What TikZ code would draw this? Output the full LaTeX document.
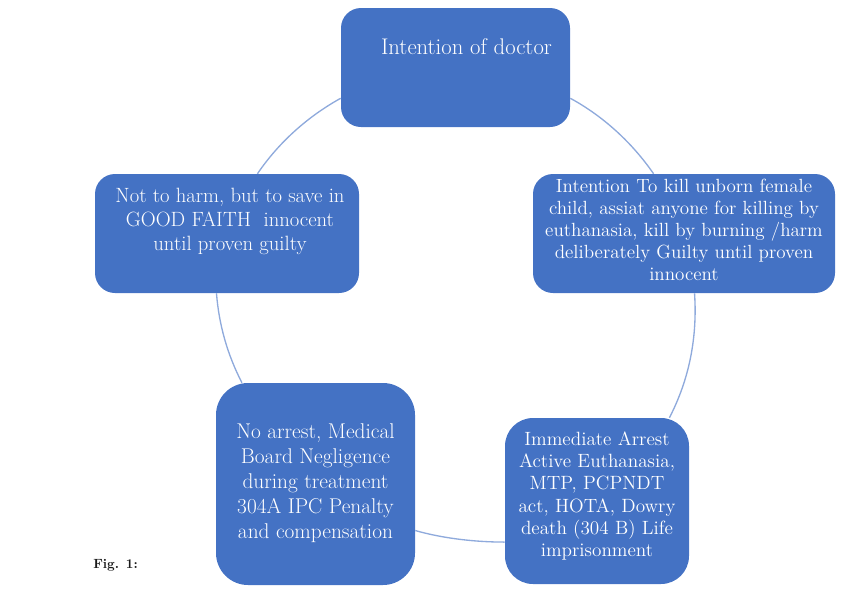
\documentclass[tikz,border=0pt]{standalone}
\usetikzlibrary{calc}
\definecolor{boxblue}{HTML}{4472C4}
\definecolor{ringblue}{HTML}{8FAADC}
\definecolor{figtext}{HTML}{1A1A1A}
\tikzset{
  cyclebox/.style={fill=boxblue, text=white, inner sep=0pt, draw=none},
  ring/.style={draw=ringblue, line width=1pt},
}
\begin{document}
\begin{tikzpicture}[x=0.75pt,y=-0.75pt]
\useasboundingbox (0,0) rectangle (863,600);

\node[cyclebox, rounded corners=15pt] (top) at (455.5,67.5)
  {\parbox[c][89.25pt][t]{171.75pt}{\centering\fontsize{17}{20}\selectfont
   \hspace*{16.5pt}\rule{0pt}{34.5pt}Intention of doctor}};

\node[cyclebox, rounded corners=15pt] (right) at (684,233.5)
  {\parbox[c][89.25pt][t]{226.5pt}{\centering\fontsize{14.3}{16.5}\selectfont
   \rule{0pt}{13.5pt}Intention To kill unborn female\\
   child, assiat anyone for killing by\\
   euthanasia, kill by burning /harm\\
   deliberately Guilty until proven\\
   innocent}};

\node[cyclebox, rounded corners=15pt] (left) at (227,233.5)
  {\parbox[c][89.25pt][t]{198pt}{\centering\fontsize{15.5}{18}\selectfont
   \hspace*{4.5pt}\rule{0pt}{21pt}Not to harm, but to save in\\
   \hspace*{4.5pt}GOOD FAITH~ innocent\\
   \hspace*{4.5pt}until proven guilty}};

\node[cyclebox, rounded corners=24pt] (bl) at (315.5,484)
  {\parbox[c][151.5pt][t]{149.25pt}{\centering\fontsize{16}{18.75}\selectfont
   \rule{0pt}{41.5pt}No arrest, Medical\\
   Board Negligence\\
   during treatment\\
   304A IPC Penalty\\
   and compensation}};

\node[cyclebox, rounded corners=21pt] (br) at (597,501)
  {\parbox[c][124.5pt][t]{138pt}{\centering\fontsize{14.4}{16.75}\selectfont
   \rule{0pt}{20.25pt}Immediate Arrest\\
   Active Euthanasia,\\
   MTP, PCPNDT\\
   act, HOTA, Dowry\\
   death (304 B) Life\\
   imprisonment}};

\draw[ring] (top.195) .. controls +(-33.0,18.2) and +(21.2,-31.2) .. (left.63);
\draw[ring] (top.345) .. controls +(33.1,18.0) and +(-21.4,-31.0) .. (right.117);
\draw[ring] (right.280) .. controls +(2.9,43.6) and +(20.1,-38.8) .. (br.49);
\draw[ring] (br.204) .. controls +(-29.1,0) and +(28.0,8.0) .. (bl.335);
\draw[ring] (bl.126) .. controls +(-14.6,-28.3) and +(2.55,31.7) .. (left.260);

\node[anchor=base west, inner sep=0pt, text=figtext,
      font=\bfseries\fontsize{10}{12}\selectfont] (fig) at (93,568) {Fig. 1:};
\end{tikzpicture}
\end{document}
